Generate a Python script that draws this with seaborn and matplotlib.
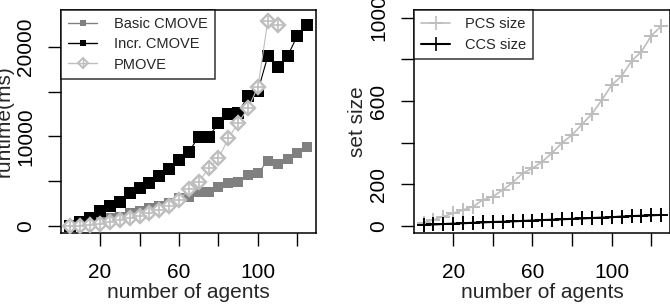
import numpy as np
import matplotlib
matplotlib.use('Agg')
import matplotlib.pyplot as plt
from matplotlib.lines import Line2D
from matplotlib.legend_handler import HandlerTuple
import seaborn as sns

sns.set_theme(style='ticks')
plt.rcParams['font.family'] = ['Liberation Sans', 'DejaVu Sans']

# number of agents
agents = [5, 10, 15, 20, 25, 30, 35, 40, 45, 50, 55, 60, 65,
          70, 75, 80, 85, 90, 95, 100, 105, 110, 115, 120, 125]

# runtime (ms)
basic_cmove = [0, 110, 220, 480, 860, 1040, 1410, 1680, 1970, 2240, 2610, 3090, 3280,
               3760, 3840, 4400, 4840, 4950, 5700, 5890, 7300, 6930, 7450, 8190, 8790]
incr_cmove = [0, 480, 860, 1680, 2270, 2720, 3720, 4280, 4840, 5620, 6370, 7370, 8300,
              9980, 9980, 11470, 12510, 12660, 14520, 15120, 18990, 17730, 18990, 21270, 22460]
# PMOVE beyond 110 agents runs off the top of the plot
pmove_agents = agents[:22]
pmove = [0, 0, 80, 220, 480, 670, 860, 1120, 1410, 1790, 2240, 2900, 4100,
         4950, 6440, 7560, 9800, 11550, 13150, 15570, 22900, 22460]

# set sizes
pcs_size = [16, 29, 45, 61, 77, 93, 125, 141, 173, 208, 253, 277, 309,
            352, 400, 437, 488, 538, 605, 677, 720, 792, 837, 914, 960]
ccs_size = [4, 7, 9, 11, 13, 15, 17, 19, 20, 22, 24, 26, 28,
            30, 32, 34, 36, 38, 40, 42, 45, 47, 49, 51, 53]

BLACK = '#000000'
GREY = '#808080'
LIGHT = '#bebebe'

fig = plt.figure(figsize=(6.7, 3.04), dpi=100)
ax1 = fig.add_axes([61/670, 1-233/304, 255/670, 223/304])
ax2 = fig.add_axes([414/670, 1-233/304, 256/670, 223/304])

# left panel: runtime
sns.lineplot(x=agents, y=basic_cmove, ax=ax1, color=GREY, lw=0.8, marker='s',
             markersize=7.6, markeredgewidth=0, zorder=3)
sns.lineplot(x=agents, y=incr_cmove, ax=ax1, color=BLACK, lw=0.8, marker='s',
             markersize=8.0, markeredgewidth=0, zorder=4)
sns.lineplot(x=pmove_agents, y=pmove, ax=ax1, color=LIGHT, lw=0.8, marker='D',
             markersize=7.0, markerfacecolor='white', markeredgecolor=LIGHT,
             markeredgewidth=1.7, zorder=5)
sns.scatterplot(x=pmove_agents, y=pmove, ax=ax1, color=LIGHT, marker='+',
                s=100, linewidth=1.2, zorder=6)

ax1.set_xlim(0.2, 129.4)
ax1.set_ylim(-780, 24130)
ax1.set_xticks([20, 40, 60, 80, 100, 120])
ax1.set_xticklabels(['20', '', '60', '', '100', ''])
ax1.set_yticks([0, 5000, 10000, 15000, 20000])
ax1.set_yticklabels(['0', '', '10000', '', '20000'], rotation=90, va='center')
ax1.set_xlabel('number of agents', fontsize=15, labelpad=1)
ax1.set_ylabel('runtime(ms)', fontsize=15, labelpad=2)

h_basic = Line2D([], [], color=GREY, lw=1, marker='s', markersize=5, markeredgewidth=0)
h_incr = Line2D([], [], color=BLACK, lw=1, marker='s', markersize=5, markeredgewidth=0)
h_pm1 = Line2D([], [], color=LIGHT, lw=1, marker='D', markersize=5,
               markerfacecolor='white', markeredgewidth=1.4)
h_pm2 = Line2D([], [], color=LIGHT, lw=0, marker='+', markersize=7, markeredgewidth=1)
leg1 = ax1.legend([h_basic, h_incr, (h_pm1, h_pm2)], ['Basic CMOVE', 'Incr. CMOVE', 'PMOVE'],
                  handler_map={tuple: HandlerTuple(ndivide=1)},
                  loc='upper left', bbox_to_anchor=(0, 1), borderaxespad=0,
                  fontsize=10.5, frameon=True, fancybox=False, edgecolor=BLACK,
                  handlelength=2.0, handletextpad=1.1, labelspacing=0.42,
                  borderpad=0.5)
leg1.get_frame().set_linewidth(1.1)

# right panel: set sizes
sns.lineplot(x=agents, y=pcs_size, ax=ax2, color=LIGHT, lw=1.2, marker='+',
             markersize=10, markeredgewidth=1.4, markeredgecolor=LIGHT)
sns.lineplot(x=agents, y=ccs_size, ax=ax2, color=BLACK, lw=1.5, marker='+',
             markersize=10, markeredgewidth=1.4, markeredgecolor=BLACK)

ax2.set_xlim(0.2, 129.4)
ax2.set_ylim(-34, 1037)
ax2.set_xticks([20, 40, 60, 80, 100, 120])
ax2.set_xticklabels(['20', '', '60', '', '100', ''])
ax2.set_yticks([0, 200, 400, 600, 800, 1000])
ax2.set_yticklabels(['0', '200', '', '600', '', '1000'], rotation=90, va='center')
ax2.set_xlabel('number of agents', fontsize=15, labelpad=1)
ax2.set_ylabel('set size', fontsize=15, labelpad=2)

h_pcs = Line2D([], [], color=LIGHT, lw=1.2, marker='+', markersize=10, markeredgewidth=1.2)
h_ccs = Line2D([], [], color=BLACK, lw=1.5, marker='+', markersize=10, markeredgewidth=1.2)
leg2 = ax2.legend([h_pcs, h_ccs], ['PCS size', 'CCS size'],
                  loc='upper left', bbox_to_anchor=(0, 1), borderaxespad=0,
                  fontsize=10.5, frameon=True, fancybox=False, edgecolor=BLACK,
                  handlelength=2.0, handletextpad=1.0, labelspacing=0.45,
                  borderpad=0.5)
leg2.get_frame().set_linewidth(1.1)

for ax in (ax1, ax2):
    ax.tick_params(axis='both', labelsize=15, length=9.5, width=1, color=BLACK,
                   labelcolor=BLACK)
    ax.tick_params(axis='x', pad=12)
    ax.tick_params(axis='y', pad=9)
    for sp in ax.spines.values():
        sp.set_visible(True)
        sp.set_linewidth(1.1)
        sp.set_color(BLACK)
    ax.set_facecolor('white')

fig.savefig('out.png', dpi=100, facecolor='white')
